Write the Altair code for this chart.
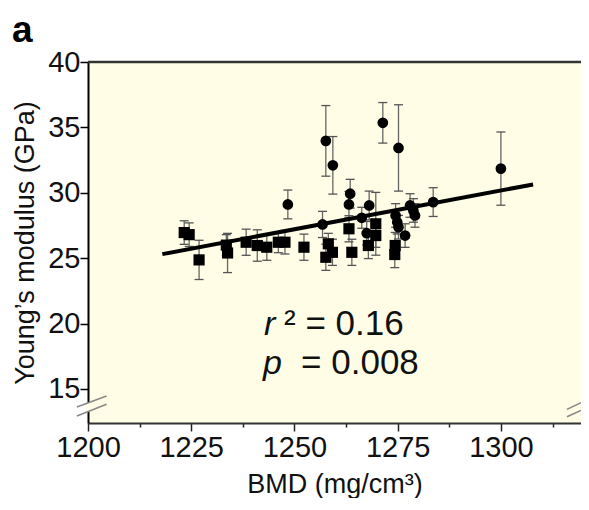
import altair as alt
import pandas as pd

# ---- data ----
sq_x = [1223.3, 1224.5, 1226.9, 1233.5, 1233.8, 1238.3, 1241.0, 1243.3, 1246.1, 1247.7,
        1252.3, 1257.6, 1258.2, 1259.2, 1263.2, 1263.9, 1267.9, 1269.7, 1269.7, 1274.4, 1274.3]
sq_y = [26.96, 26.80, 24.87, 26.00, 25.40, 26.22, 25.97, 25.84, 26.22, 26.22,
        25.84, 25.07, 26.10, 25.45, 27.25, 25.45, 25.97, 27.63, 26.73, 25.97, 25.28]
sq_err = [0.9, 0.9, 1.5, 0.8, 1.5, 1.0, 1.2, 1.0, 0.8, 0.9,
          1.0, 1.0, 0.8, 1.0, 1.0, 1.0, 1.0, 2.4, 0.9, 1.0, 1.0]

ci_x = [1248.4, 1256.8, 1257.6, 1259.3, 1263.5, 1263.2, 1266.3, 1268.1, 1267.5, 1271.4,
        1275.2, 1274.5, 1274.9, 1275.2, 1276.8, 1278.0, 1278.8, 1279.2, 1283.6, 1300.0]
ci_y = [29.11, 27.58, 33.97, 32.10, 29.93, 29.11, 28.09, 29.03, 26.91, 35.35,
        33.43, 28.27, 27.75, 27.37, 26.73, 29.03, 28.65, 28.27, 29.29, 31.85]
ci_err = [1.1, 1.0, 2.7, 2.2, 1.1, 1.0, 0.8, 1.1, 0.9, 1.55,
          3.3, 0.9, 0.9, 0.9, 0.9, 0.9, 0.9, 0.9, 1.1, 2.8]

fit_x = [1218.0, 1307.8]
fit_y = [25.31, 30.64]

x_ticks = [1200 + 12.5 * i for i in range(10)]
y_ticks = [15 + 2.5 * i for i in range(11)]

ann_x = [1242.4]
ann_line1_y = [19.10]
ann_line2_y = [16.15]

FONT = "Liberation Sans"
W, H = 493, 361
X_DOM = [1200, 1319.4]
Y_DOM = [12.4, 40]

sq = pd.DataFrame({"bmd": sq_x, "E": sq_y, "err": sq_err})
ci = pd.DataFrame({"bmd": ci_x, "E": ci_y, "err": ci_err})
allp = pd.concat([sq, ci], ignore_index=True)
allp["lo"] = allp["E"] - allp["err"]
allp["hi"] = allp["E"] + allp["err"]
fit = pd.DataFrame({"bmd": fit_x, "E": fit_y})

xs = alt.Scale(domain=X_DOM, nice=False, zero=False)
ys = alt.Scale(domain=Y_DOM, nice=False, zero=False)

x_axis = alt.Axis(
    values=x_ticks, format="d",
    labelExpr="datum.value % 25 === 0 ? datum.label : ''",
    tickSize={"condition": {"test": "datum.value % 25 === 0", "value": 8}, "value": 4},
    labelFlush=False, labelOverlap=False, grid=False,
    domainColor="#333333", domainWidth=2, tickColor="#222222", tickWidth=1.5,
    labelFont=FONT, labelFontSize=29, labelColor="#111111", labelPadding=2,
    title="BMD (mg/cm³)", titleFont=FONT, titleFontSize=27, titleFontWeight="normal",
    titleColor="#111111", titleY=69, titleBaseline="alphabetic",
)
y_axis = alt.Axis(
    values=y_ticks, format="d",
    labelExpr="datum.value % 5 === 0 ? datum.label : ''",
    tickSize={"condition": {"test": "datum.value % 5 === 0", "value": 8}, "value": 4},
    labelOverlap=False, grid=False,
    domainColor="#000000", domainWidth=2, tickColor="#000000", tickWidth=1.5,
    labelFont=FONT, labelFontSize=29, labelColor="#111111", labelPadding=0,
    title="Young’s modulus (GPa)", titleFont=FONT, titleFontSize=27,
    titleFontWeight="normal", titleColor="#111111", titlePadding=8,
)

base = alt.Chart(allp)

err_rule = base.mark_rule(color="#666666", strokeWidth=1.3).encode(
    x=alt.X("bmd:Q", scale=xs, axis=x_axis),
    y=alt.Y("lo:Q", scale=ys, axis=y_axis),
    y2="hi:Q",
)
cap_lo = base.mark_tick(orient="horizontal", size=9, thickness=1.3, color="#555555", opacity=1).encode(
    x=alt.X("bmd:Q", scale=xs), y=alt.Y("lo:Q", scale=ys))
cap_hi = base.mark_tick(orient="horizontal", size=9, thickness=1.3, color="#555555", opacity=1).encode(
    x=alt.X("bmd:Q", scale=xs), y=alt.Y("hi:Q", scale=ys))

fit_line = alt.Chart(fit).mark_line(color="#000000", strokeWidth=4).encode(
    x=alt.X("bmd:Q", scale=xs), y=alt.Y("E:Q", scale=ys))

sq_pts = alt.Chart(sq).mark_point(shape="square", filled=True, size=125, color="#000000", opacity=1).encode(
    x=alt.X("bmd:Q", scale=xs), y=alt.Y("E:Q", scale=ys))
ci_pts = alt.Chart(ci).mark_point(shape="circle", filled=True, size=115, color="#000000", opacity=1).encode(
    x=alt.X("bmd:Q", scale=xs), y=alt.Y("E:Q", scale=ys))

# annotation
a1 = pd.DataFrame({"x": ann_x, "y": ann_line1_y})
a2 = pd.DataFrame({"x": ann_x, "y": ann_line2_y})
def txt(df, text, dx, size, style="normal"):
    return alt.Chart(df).mark_text(text=text, align="left", baseline="alphabetic", dx=dx,
                                   font=FONT, fontSize=size, fontStyle=style, color="#111111").encode(
        x=alt.X("x:Q", scale=xs), y=alt.Y("y:Q", scale=ys))

t_r = txt(a1, "r", 1, 34, "italic")
t_r2 = txt(a1, "² = 0.16", 21, 35)
t_p = txt(a2, "p", 0, 34, "italic")
t_p2 = txt(a2, "= 0.008", 38, 35)

# axis break marks
brk = pd.DataFrame({
    "x1": [1197.3, 1197.3, 1316.0, 1316.0],
    "x2": [1204.5, 1204.5, 1319.4, 1319.4],
    "y1": [13.62, 12.93, 13.44, 12.88],
    "y2": [14.46, 13.83, 13.95, 13.37],
})
gap = pd.DataFrame({"x": [1200.0], "y1": [13.25], "y2": [13.95]})
gap_rule = alt.Chart(gap).mark_rule(color="#fffde6", strokeWidth=5).encode(
    x=alt.X("x:Q", scale=xs), y=alt.Y("y1:Q", scale=ys), y2="y2:Q")
brk_rule = alt.Chart(brk).mark_rule(color="#888888", strokeWidth=1.5).encode(
    x=alt.X("x1:Q", scale=xs), x2="x2:Q", y=alt.Y("y1:Q", scale=ys), y2="y2:Q")

# top frame line and panel letter
one = pd.DataFrame({"k": [0]})
top_line = alt.Chart(one).mark_rule(color="#333333", strokeWidth=2.5).encode(
    x=alt.value(0), x2=alt.value(W), y=alt.value(0))
letter = alt.Chart(one).mark_text(text="a", align="left", baseline="alphabetic", font=FONT,
                                  fontSize=37, fontWeight="bold", color="#000000").encode(
    x=alt.value(-76), y=alt.value(-20))

chart = alt.layer(
    err_rule, cap_lo, cap_hi, fit_line, sq_pts, ci_pts,
    t_r, t_r2, t_p, t_p2, gap_rule, brk_rule, top_line, letter,
).properties(
    width=W, height=H,
    autosize=alt.AutoSizeParams(type="none"),
    padding={"left": 80, "top": 54, "right": 0, "bottom": 75},
    background="#ffffff",
).configure_view(fill="#fffde6", stroke=None)

chart.save("out.html", embed_options={"renderer": "svg", "actions": False})
